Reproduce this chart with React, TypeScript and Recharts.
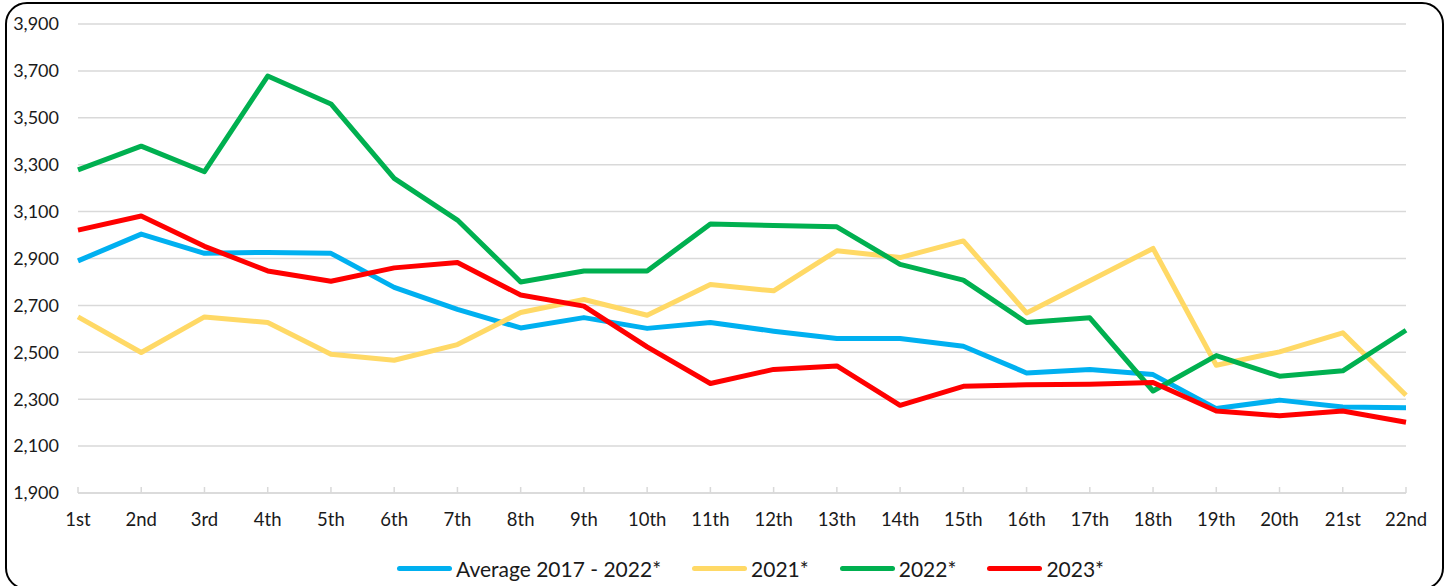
import React from "react"
import { LineChart, Line, XAxis, YAxis, CartesianGrid, Legend } from "recharts"

const days = [
  "1st", "2nd", "3rd", "4th", "5th", "6th", "7th", "8th", "9th", "10th", "11th",
  "12th", "13th", "14th", "15th", "16th", "17th", "18th", "19th", "20th", "21st", "22nd",
]

const average = [
  2890, 3004, 2922, 2926, 2922, 2777, 2683, 2604, 2648, 2602, 2627,
  2590, 2559, 2559, 2526, 2412, 2427, 2405, 2260, 2296, 2267, 2264,
]

const y2021 = [
  2651, 2499, 2651, 2627, 2492, 2466, 2533, 2670, 2725, 2658, 2789,
  2762, 2933, 2904, 2975, 2668, 2805, 2943, 2445, 2502, 2583, 2317,
]

const y2022 = [
  3278, 3379, 3270, 3678, 3559, 3242, 3064, 2800, 2847, 2847, 3047,
  3041, 3035, 2875, 2808, 2627, 2647, 2335, 2486, 2398, 2421, 2594,
]

const y2023 = [
  3021, 3081, 2952, 2847, 2803, 2860, 2883, 2744, 2697, 2523, 2367,
  2427, 2442, 2274, 2355, 2362, 2364, 2371, 2250, 2229, 2250, 2202,
]

const seriesNames = ["Average 2017 - 2022*", "2021*", "2022*", "2023*"]

const yTicks = [1900, 2100, 2300, 2500, 2700, 2900, 3100, 3300, 3500, 3700, 3900]

const data = days.map((day, i) => ({
  day,
  avg: average[i],
  y2021: y2021[i],
  y2022: y2022[i],
  y2023: y2023[i],
}))

const font = "Lato, 'Open Sans', sans-serif"

function DayTick(props: any) {
  const { x, y, payload } = props
  return (
    <g>
      <line x1={x} x2={x} y1={y - 6} y2={y} stroke="#d9d9d9" strokeWidth={1.5} />
      <text x={x} y={y + 33} textAnchor="middle" fontSize={18.5} fontFamily={font} fill="#1a1a1a">
        {payload.value}
      </text>
    </g>
  )
}

function LegendRow(props: any) {
  const items = [...(props.payload || [])].sort(
    (a: any, b: any) => seriesNames.indexOf(a.value) - seriesNames.indexOf(b.value)
  )
  return (
    <div style={{ display: "flex", alignItems: "center", paddingLeft: 397, fontFamily: font, fontSize: 21, color: "#1a1a1a" }}>
      {items.map((it: any) => (
        <div key={it.value} style={{ display: "flex", alignItems: "center", marginRight: 31 }}>
          <div style={{ width: 55, height: 5, borderRadius: 3, background: it.color, marginRight: 4 }} />
          <span>{it.value}</span>
        </div>
      ))}
    </div>
  )
}

export default function App() {
  return (
    <div style={{ position: "fixed", left: 0, top: 0, width: 1451, height: 586, overflow: "hidden", background: "#fff" }}>
      <div
        style={{
          position: "absolute",
          left: 5,
          top: 2,
          width: 1435,
          height: 584,
          border: "2px solid #000",
          borderRadius: 22,
        }}
      />
      <LineChart width={1451} height={586} data={data} margin={{ top: 24, right: 45, left: 0, bottom: 53 }}>
        <CartesianGrid vertical={false} stroke="#d9d9d9" strokeWidth={1.5} />
        <XAxis
          dataKey="day"
          height={40}
          interval={0}
          stroke="#d9d9d9"
          strokeWidth={1.5}
          tickLine={false}
          tickSize={0}
          tickMargin={0}
          tick={<DayTick />}
        />
        <YAxis
          width={78}
          domain={[1900, 3900]}
          ticks={yTicks}
          interval={0}
          axisLine={false}
          tickLine={false}
          tickSize={6}
          tickMargin={13}
          tickFormatter={(v: number) => v.toLocaleString("en-US")}
          tick={{ fontSize: 18, fontFamily: font, fill: "#1a1a1a" }}
        />
        <Legend
          verticalAlign="middle"
          align="center"
          layout="horizontal"
          wrapperStyle={{ top: 556, left: 0, width: 1451 }}
          content={<LegendRow />}
        />
        <Line dataKey="avg" name={seriesNames[0]} stroke="#00b0f0" strokeWidth={5} dot={false} isAnimationActive={false} strokeLinejoin="round" />
        <Line dataKey="y2021" name={seriesNames[1]} stroke="#ffd966" strokeWidth={5} dot={false} isAnimationActive={false} strokeLinejoin="round" />
        <Line dataKey="y2022" name={seriesNames[2]} stroke="#00b050" strokeWidth={5} dot={false} isAnimationActive={false} strokeLinejoin="round" />
        <Line dataKey="y2023" name={seriesNames[3]} stroke="#ff0000" strokeWidth={5} dot={false} isAnimationActive={false} strokeLinejoin="round" />
      </LineChart>
    </div>
  )
}
